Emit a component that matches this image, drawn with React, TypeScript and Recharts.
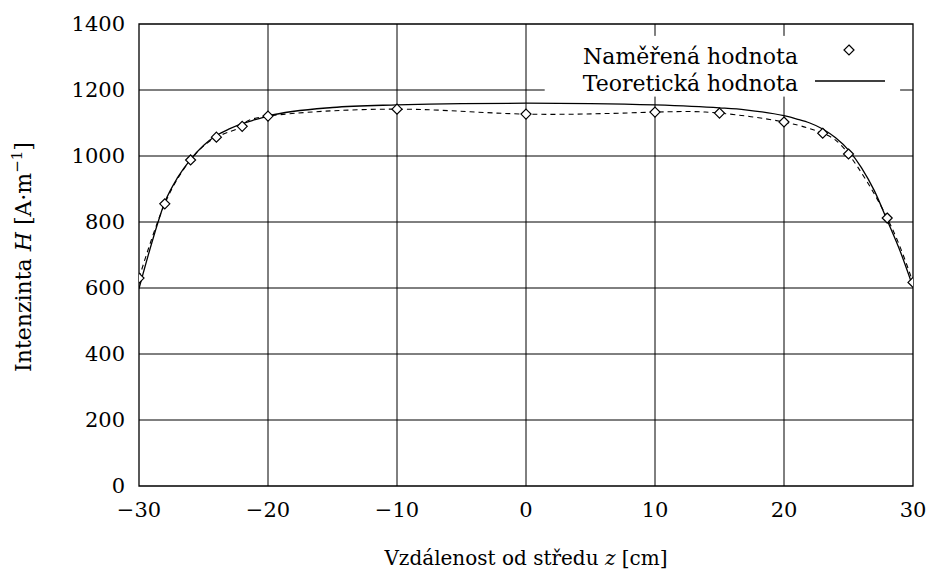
import { LineChart, Line, XAxis, YAxis, ReferenceLine, ReferenceArea } from 'recharts';

// measured points
const measuredZ = [-30, -28, -26, -24, -22, -20, -10, 0, 10, 15, 20, 23, 25, 28, 30];
const measuredH = [630, 855, 988, 1057, 1090, 1121, 1142, 1127, 1133, 1130, 1103, 1069, 1006, 812, 617];

// theoretical curve
const theoryZ = [-30, -29, -28, -27, -26, -25, -24, -23, -22, -21, -20, -15, -10, -5, 0, 5, 10, 15, 17, 20, 21, 22, 23, 24, 25, 26, 27, 28, 29, 30];
const theoryH = [598, 738, 860, 935, 990, 1032, 1062, 1082, 1098, 1110, 1121, 1147, 1155, 1159, 1160, 1159, 1155, 1146, 1140, 1122, 1112, 1100, 1082, 1055, 1018, 965, 895, 805, 712, 603];

const xTicks = [-30, -20, -10, 0, 10, 20, 30];
const yTicks = [0, 200, 400, 600, 800, 1000, 1200, 1400];

const measured = measuredZ.map((z, i) => ({ z, h: measuredH[i] }));
const theory = theoryZ.map((z, i) => ({ z, h: theoryH[i] }));

const FONT = '"DejaVu Serif", "Liberation Serif", serif';

const fmt = (v: number) => (v < 0 ? '\u2212' + Math.abs(v) : String(v));

const Diamond = (props: any) => {
  const { cx, cy } = props;
  if (cx == null || cy == null) return null;
  const r = 5;
  return (
    <path
      d={`M${cx},${cy - r}L${cx + r},${cy}L${cx},${cy + r}L${cx - r},${cy}Z`}
      fill="#fff"
      stroke="#000"
      strokeWidth={1.2}
    />
  );
};

export default function App() {
  return (
    <div style={{ position: 'absolute', left: 0, top: 0, width: 930, height: 571, background: '#fff', fontFamily: FONT }}>
      <LineChart
        width={930}
        height={571}
        margin={{ top: 24, right: 17, bottom: 55, left: 79 }}
        style={{ fontFamily: FONT }}
      >
        <XAxis
          type="number"
          dataKey="z"
          domain={[-30, 30]}
          ticks={xTicks}
          tickFormatter={fmt}
          axisLine={false}
          tickLine={false}
          tickMargin={10}
          height={30}
          tick={{ fontSize: 21, fill: '#000', fontFamily: FONT }}
          allowDataOverflow
        />
        <YAxis
          type="number"
          dataKey="h"
          domain={[0, 1400]}
          ticks={yTicks}
          axisLine={false}
          tickLine={false}
          tickMargin={8}
          width={60}
          tick={{ fontSize: 21, fill: '#000', fontFamily: FONT }}
          allowDataOverflow
        />

        {/* grid, interrupted by the key box */}
        {[200, 400, 600, 800, 1000].map((v) => (
          <ReferenceLine key={'h' + v} y={v} stroke="#000" strokeWidth={1} />
        ))}
        <ReferenceLine segment={[{ x: -30, y: 1200 }, { x: 1.45, y: 1200 }]} stroke="#000" />
        <ReferenceLine segment={[{ x: 29.0, y: 1200 }, { x: 30, y: 1200 }]} stroke="#000" />
        {[-20, -10, 0].map((v) => (
          <ReferenceLine key={'v' + v} x={v} stroke="#000" strokeWidth={1} />
        ))}
        {[10, 20].map((v) => (
          <ReferenceLine key={'vb' + v} segment={[{ x: v, y: 0 }, { x: v, y: 1180 }]} stroke="#000" />
        ))}
        {[10, 20].map((v) => (
          <ReferenceLine key={'vt' + v} segment={[{ x: v, y: 1364 }, { x: v, y: 1400 }]} stroke="#000" />
        ))}
        <ReferenceArea x1={-30} x2={30} y1={0} y2={1400} fill="none" stroke="#000" strokeWidth={1.3} />

        <Line
          data={theory}
          dataKey="h"
          type="monotoneX"
          stroke="#000"
          strokeWidth={1.3}
          dot={false}
          isAnimationActive={false}
        />
        <Line
          data={measured}
          dataKey="h"
          type="natural"
          stroke="#000"
          strokeWidth={1.1}
          strokeDasharray="5 4"
          dot={<Diamond />}
          isAnimationActive={false}
        />
      </LineChart>

      <svg
        width={930}
        height={571}
        style={{ position: 'absolute', left: 0, top: 0, pointerEvents: 'none' }}
        fontFamily={FONT}
      >
        {/* key */}
        <text x={798} y={64} fontSize={22} textAnchor="end" fill="#000">Naměřená hodnota</text>
        <path d="M849,45L854,50L849,55L844,50Z" fill="#fff" stroke="#000" strokeWidth={1.2} />
        <text x={798} y={91} fontSize={22} textAnchor="end" fill="#000">Teoretická hodnota</text>
        <line x1={815} y1={81} x2={885} y2={81} stroke="#000" strokeWidth={1.3} />

        {/* axis titles */}
        <text x={526} y={565} fontSize={20} textAnchor="middle" fill="#000">
          Vzdálenost od středu <tspan fontStyle="italic">z</tspan> [cm]
        </text>
        <text x={0} y={0} fontSize={22} textAnchor="middle" fill="#000" transform="translate(31,257) rotate(-90)">
          Intenzinta <tspan fontStyle="italic">H</tspan> [A·m<tspan dy={-9} fontSize={15}>−1</tspan><tspan dy={9}>]</tspan>
        </text>
      </svg>
    </div>
  );
}
